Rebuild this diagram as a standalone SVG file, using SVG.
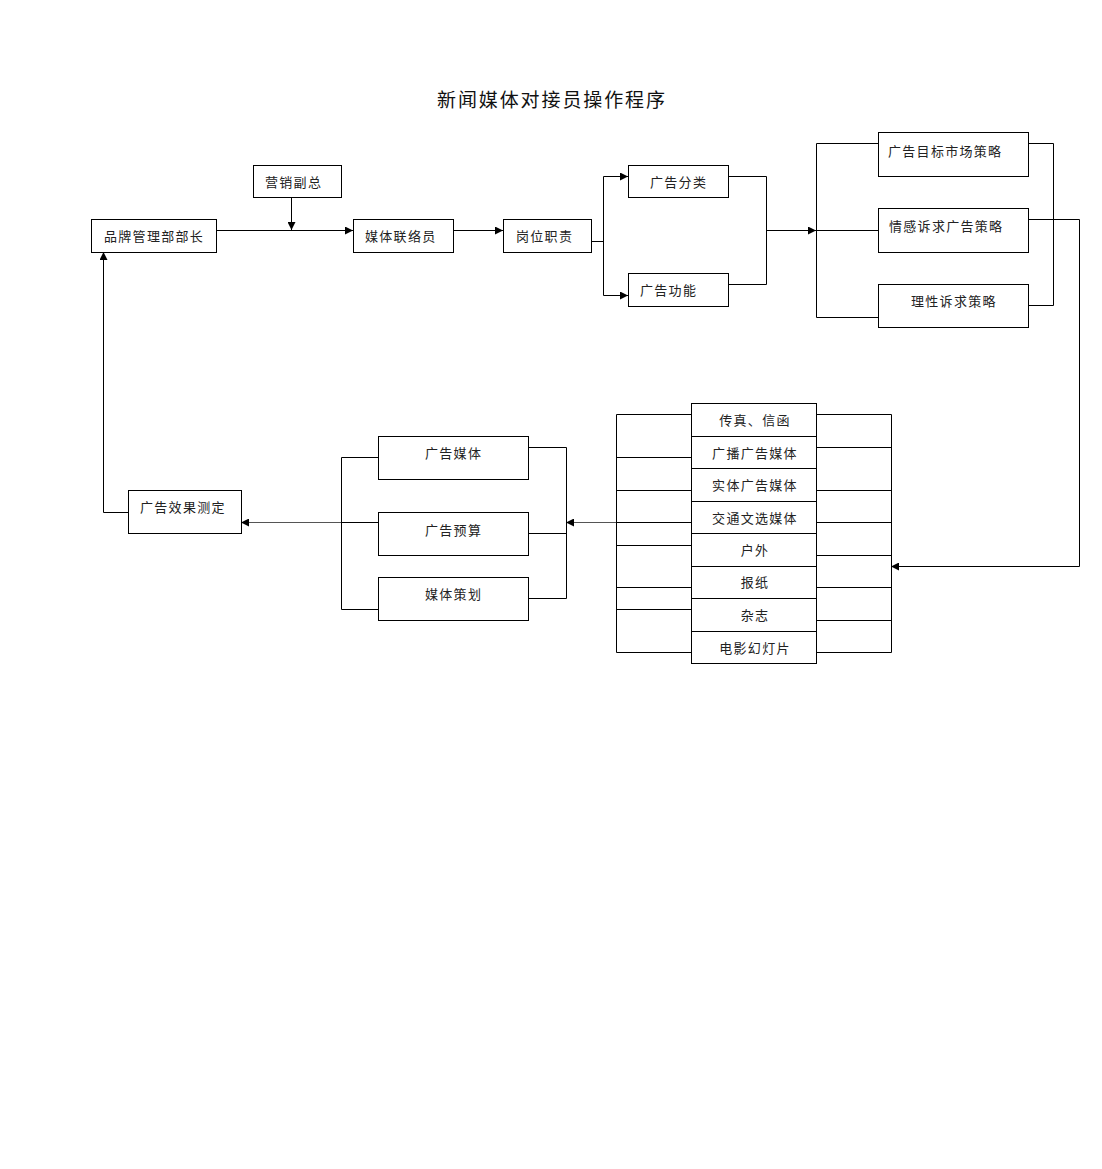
<svg xmlns="http://www.w3.org/2000/svg" width="1102" height="1169" viewBox="0 0 1102 1169">
<style>
.b{fill:#fff;stroke:#000;stroke-width:1}
.c{fill:none;stroke:#000;stroke-width:1}
.g{fill:none;stroke:#555;stroke-width:1}
text{font-family:"Noto Sans CJK SC","Liberation Sans",sans-serif;font-size:13px;letter-spacing:1.3px;fill:#222}
.m{text-anchor:middle}
.t{font-size:19px;letter-spacing:1.9px;fill:#111}
</style>
<defs>
<marker id="a" viewBox="0 0 10 10" refX="10" refY="5" markerWidth="9" markerHeight="8" markerUnits="userSpaceOnUse" orient="auto">
<path d="M0,0 L10,5 L0,10 z" fill="#000"/>
</marker>
</defs>
<rect width="1102" height="1169" fill="#fff"/>
<text class="t" x="437" y="107">新闻媒体对接员操作程序</text>
<g id="connectors">
<path class="c" d="M291.5 197 V230" marker-end="url(#a)"/>
<path class="c" d="M216 230.5 H353" marker-end="url(#a)"/>
<path class="c" d="M453 230.5 H503" marker-end="url(#a)"/>
<path class="c" d="M591 241.5 H603.5 M603.5 176.5 V295.5"/>
<path class="c" d="M603.5 176.5 H628" marker-end="url(#a)"/>
<path class="c" d="M603.5 295.5 H628" marker-end="url(#a)"/>
<path class="c" d="M728 176.5 H766.5 V284.5 H728"/>
<path class="c" d="M766.5 230.5 H816" marker-end="url(#a)"/>
<path class="c" d="M878 143.5 H816.5 V317.5 H878 M816.5 230.5 H878"/>
<path class="c" d="M1028 143.5 H1053.5 V305.5 H1028"/>
<path class="c" d="M1028 219.5 H1079.5 V566.5 H891" marker-end="url(#a)"/>
<path class="c" d="M891.5 414.5 V652.5 M816 414.5 H891.5 M816 447.5 H891.5 M816 490.5 H891.5 M816 522.5 H891.5 M816 555.5 H891.5 M816 587.5 H891.5 M816 620.5 H891.5 M816 652.5 H891.5"/>
<path class="c" d="M616.5 414.5 V652.5 M616.5 414.5 H691 M616.5 457.5 H691 M616.5 490.5 H691 M616.5 522.5 H691 M616.5 545.5 H691 M616.5 587.5 H691 M616.5 609.5 H691 M616.5 652.5 H691"/>
<path class="g" d="M616 522.5 H566" marker-end="url(#a)"/>
<path class="c" d="M528 447.5 H566.5 V598.5 H528 M528 533.5 H566.5"/>
<path class="c" d="M378 457.5 H341.5 V609.5 H378 M378 522.5 H341.5"/>
<path class="g" d="M341 522.5 H241" marker-end="url(#a)"/>
<path class="c" d="M128 512.5 H103.5 V252" marker-end="url(#a)"/>
</g>
<g id="yxfz"><rect class="b" x="253.5" y="165.5" width="88" height="32"/><text x="265" y="186.5">营销副总</text></g>
<g id="ppgl"><rect class="b" x="91.5" y="219.5" width="125" height="33"/><text x="104" y="240.5">品牌管理部部长</text></g>
<g id="mtll"><rect class="b" x="353.5" y="219.5" width="100" height="33"/><text x="365" y="240.5">媒体联络员</text></g>
<g id="gwzz"><rect class="b" x="503.5" y="219.5" width="88" height="33"/><text x="516" y="240.5">岗位职责</text></g>
<g id="ggfl"><rect class="b" x="628.5" y="165.5" width="100" height="32"/><text x="650" y="186.5">广告分类</text></g>
<g id="gggn"><rect class="b" x="628.5" y="273.5" width="100" height="33"/><text x="640" y="294.5">广告功能</text></g>
<g id="mbsc"><rect class="b" x="878.5" y="132.5" width="150" height="44"/><text x="888" y="155.5">广告目标市场策略</text></g>
<g id="qgsq"><rect class="b" x="878.5" y="208.5" width="150" height="44"/><text x="889" y="230.5">情感诉求广告策略</text></g>
<g id="lxsq"><rect class="b" x="878.5" y="284.5" width="150" height="43"/><text x="911" y="305.5">理性诉求策略</text></g>
<g id="czxh"><rect class="b" x="691.5" y="403.5" width="125" height="33"/><text class="m" x="755" y="424.5">传真、信函</text></g>
<g id="gbgg"><rect class="b" x="691.5" y="436.5" width="125" height="32"/><text class="m" x="755" y="457.5">广播广告媒体</text></g>
<g id="stgg"><rect class="b" x="691.5" y="468.5" width="125" height="33"/><text class="m" x="755" y="489.5">实体广告媒体</text></g>
<g id="jtwx"><rect class="b" x="691.5" y="501.5" width="125" height="32"/><text class="m" x="755" y="522.5">交通文选媒体</text></g>
<g id="hw"><rect class="b" x="691.5" y="533.5" width="125" height="33"/><text class="m" x="755" y="554.5">户外</text></g>
<g id="bz"><rect class="b" x="691.5" y="566.5" width="125" height="32"/><text class="m" x="755" y="586.5">报纸</text></g>
<g id="zz"><rect class="b" x="691.5" y="598.5" width="125" height="33"/><text class="m" x="755" y="619.5">杂志</text></g>
<g id="dy"><rect class="b" x="691.5" y="631.5" width="125" height="32"/><text class="m" x="755" y="652.5">电影幻灯片</text></g>
<g id="ggmt"><rect class="b" x="378.5" y="436.5" width="150" height="43"/><text x="425" y="457.5">广告媒体</text></g>
<g id="ggys"><rect class="b" x="378.5" y="512.5" width="150" height="43"/><text x="425" y="534.5">广告预算</text></g>
<g id="mtch"><rect class="b" x="378.5" y="577.5" width="150" height="43"/><text x="425" y="598.5">媒体策划</text></g>
<g id="ggxg"><rect class="b" x="128.5" y="490.5" width="113" height="43"/><text x="140" y="511.5">广告效果测定</text></g>
</svg>
